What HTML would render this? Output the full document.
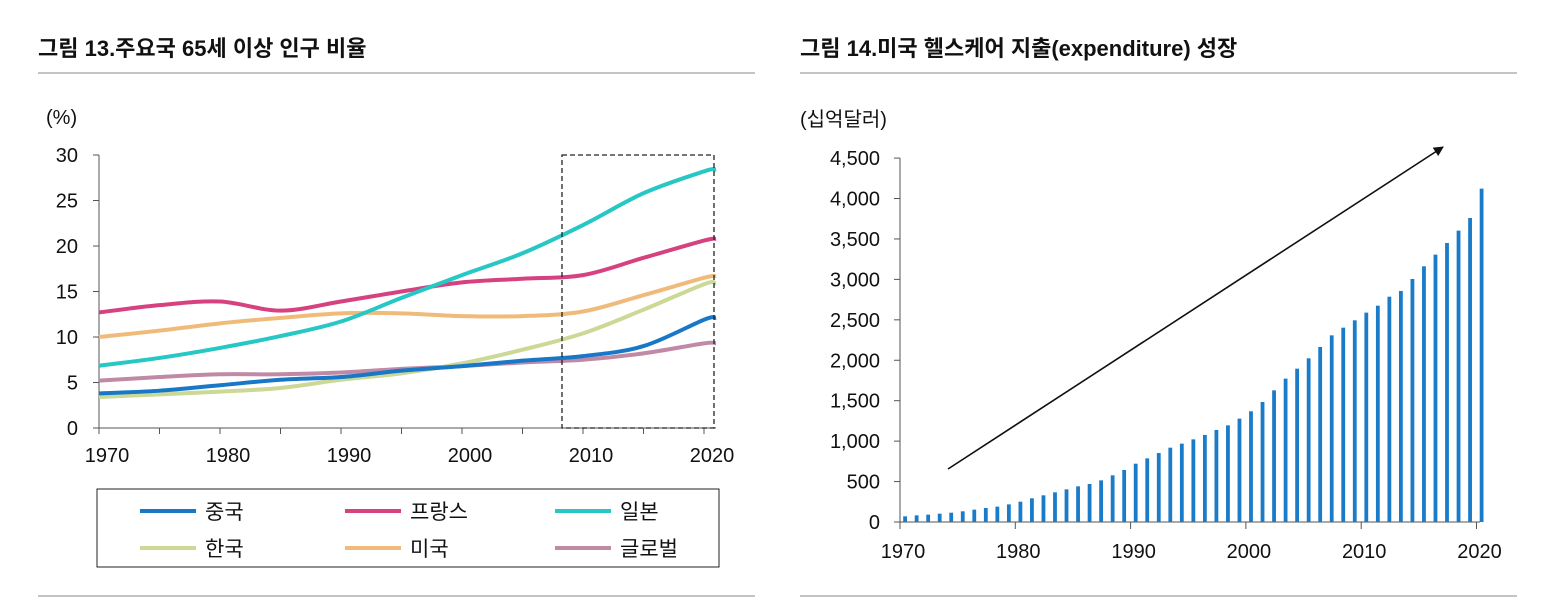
<!DOCTYPE html>
<html><head><meta charset="utf-8"><style>
body{margin:0;background:#fff;width:1550px;height:598px;overflow:hidden;font-family:"Liberation Sans","Noto Sans CJK KR",sans-serif;}
svg text{font-family:"Liberation Sans","Noto Sans CJK KR",sans-serif;fill:#111;}
</style></head><body>
<svg id="s" width="1550" height="598">
<text x="38" y="56" font-size="22" font-weight="bold">그림 13.주요국 65세 이상 인구 비율</text>
<line x1="38" y1="73" x2="755" y2="73" stroke="#888"/>
<line x1="38" y1="596" x2="755" y2="596" stroke="#888"/>
<text x="800" y="56" font-size="22" font-weight="bold">그림 14.미국 헬스케어 지출(expenditure) 성장</text>
<line x1="800" y1="73" x2="1517" y2="73" stroke="#888"/>
<line x1="800" y1="596" x2="1517" y2="596" stroke="#888"/>
<text x="46" y="124" font-size="20">(%)</text>
<text x="800" y="126" font-size="20">(십억달러)</text>
<g id="L"></g><g id="R"></g>
<rect x="97" y="489" width="622" height="78" fill="none" stroke="#222"/>
</svg>
<script>
const years=[1970,1975,1980,1985,1990,1995,2000,2005,2010,2015,2020,2021];
const china=[3.8,4.1,4.7,5.3,5.6,6.3,6.8,7.4,7.9,9.0,11.9,12.1];
const france=[12.7,13.5,13.9,12.9,13.9,15.0,16.0,16.4,16.8,18.7,20.6,20.8];
const japan=[6.85,7.7,8.8,10.1,11.7,14.3,16.8,19.2,22.3,25.8,28.2,28.4];
const korea=[3.4,3.7,4.0,4.4,5.3,6.0,7.1,8.6,10.4,13.0,15.8,15.9];
const usa=[10.0,10.7,11.5,12.1,12.6,12.6,12.3,12.3,12.8,14.6,16.5,16.7];
const world=[5.2,5.6,5.9,5.9,6.1,6.5,6.8,7.2,7.5,8.2,9.3,9.3];
const leftTicks=[0,5,10,15,20,25,30];
const leftYears=[1970,1980,1990,2000,2010,2020];
const barYears=[];for(let y=1970;y<=2020;y++)barYears.push(y);
const spend=[70,82,91,103,115,132,153,173,190,218,251,293,330,367,404,441,470,515,577,643,721,787,853,919,969,1022,1076,1138,1195,1278,1369,1484,1628,1773,1896,2024,2164,2308,2403,2494,2589,2675,2786,2857,3005,3162,3306,3450,3603,3759,4122];
const rightTicks=[0,500,1000,1500,2000,2500,3000,3500,4000,4500];
const rightYears=[1970,1980,1990,2000,2010,2020];
const NS='http://www.w3.org/2000/svg';
function mk(p,t,a){const e=document.createElementNS(NS,t);for(const k in a)e.setAttribute(k,a[k]);p.appendChild(e);return e;}
const L=document.getElementById('L'),R=document.getElementById('R');
const lx=y=>99+(y-1970)*12.1, ly=v=>428-v*9.1;
let e=mk(L,'line',{x1:99,y1:155,x2:99,y2:428,stroke:'#555'});


e=mk(L,'line',{x1:99,y1:428,x2:716,y2:428,stroke:'#555'});


leftTicks.forEach(v=>{mk(L,'line',{x1:93,y1:ly(v),x2:99,y2:ly(v),stroke:'#555'});
 const t=mk(L,'text',{x:78,y:ly(v)+7,'font-size':20,'text-anchor':'end'});t.textContent=v;
 
 });
for(let y=1970;y<=2020;y+=5)mk(L,'line',{x1:lx(y),y1:428,x2:lx(y),y2:434,stroke:'#555'});
leftYears.forEach(y=>{const t=mk(L,'text',{x:lx(y)+8,y:462,'font-size':20,'text-anchor':'middle'});t.textContent=y;
 
 });
function smooth(pts){let d='M'+pts[0][0]+','+pts[0][1];for(let i=0;i<pts.length-1;i++){const p0=pts[Math.max(0,i-1)],p1=pts[i],p2=pts[i+1],p3=pts[Math.min(pts.length-1,i+2)];
 d+=' C'+(p1[0]+(p2[0]-p0[0])/6)+','+(p1[1]+(p2[1]-p0[1])/6)+' '+(p2[0]-(p3[0]-p1[0])/6)+','+(p2[1]-(p3[1]-p1[1])/6)+' '+p2[0]+','+p2[1];}return d;}
const series=[['world',world,'#c08aa6'],['korea',korea,'#cbd896'],['china',china,'#1877c6'],['usa',usa,'#f0bb7a'],['france',france,'#d6427f'],['japan',japan,'#26c7c4']];
series.forEach(s=>{const p=mk(L,'path',{d:smooth(years.map((y,i)=>[lx(y),ly(s[1][i])])),fill:'none',stroke:s[2],'stroke-width':4});
 
 });
e=mk(L,'rect',{x:562,y:155,width:152,height:273,fill:'none',stroke:'#222','stroke-dasharray':'5,3','stroke-width':1.3});


const leg=[['중국','#1877c6',140,511],['프랑스','#d6427f',345,511],['일본','#26c7c4',555,511],['한국','#cbd896',140,548],['미국','#f0bb7a',345,548],['글로벌','#c08aa6',555,548]];
leg.forEach(l=>{const g=mk(L,'g',{});
 
 
 mk(g,'line',{x1:l[2],y1:l[3],x2:l[2]+56,y2:l[3],stroke:l[1],'stroke-width':4});
 const t=mk(g,'text',{x:l[2]+65,y:l[3]+8,'font-size':21});t.textContent=l[0];});
const rx=y=>905+(y-1970)*11.53, ry=v=>522-v*0.08087;
e=mk(R,'line',{x1:900,y1:158,x2:900,y2:522,stroke:'#555'});


e=mk(R,'line',{x1:900,y1:522,x2:1480,y2:522,stroke:'#555'});


rightTicks.forEach(v=>{mk(R,'line',{x1:894,y1:ry(v),x2:900,y2:ry(v),stroke:'#555'});
 const t=mk(R,'text',{x:880,y:ry(v)+7,'font-size':20,'text-anchor':'end'});t.textContent=v.toLocaleString('en-US');
 
 });
rightYears.forEach(y=>{const x=rx(y)-5;mk(R,'line',{x1:x,y1:522,x2:x,y2:529,stroke:'#555'});
 const t=mk(R,'text',{x:x+3,y:558,'font-size':20,'text-anchor':'middle'});t.textContent=y;
 
 });
barYears.forEach((y,i)=>{const b=mk(R,'rect',{x:rx(y)-1.8,y:ry(spend[i]),width:3.8,height:522-ry(spend[i]),fill:'#1a7bc9'});
 
 });
const defs=mk(R,'defs',{});const m=mk(defs,'marker',{id:'ah',markerWidth:10,markerHeight:10,refX:9,refY:5,orient:'auto',markerUnits:'userSpaceOnUse'});
mk(m,'path',{d:'M0,0 L10,5 L0,10 z',fill:'#111'});
e=mk(R,'line',{x1:948,y1:469,x2:1443,y2:147,stroke:'#111','stroke-width':1.6,'marker-end':'url(#ah)'});


</script>
</body></html>
